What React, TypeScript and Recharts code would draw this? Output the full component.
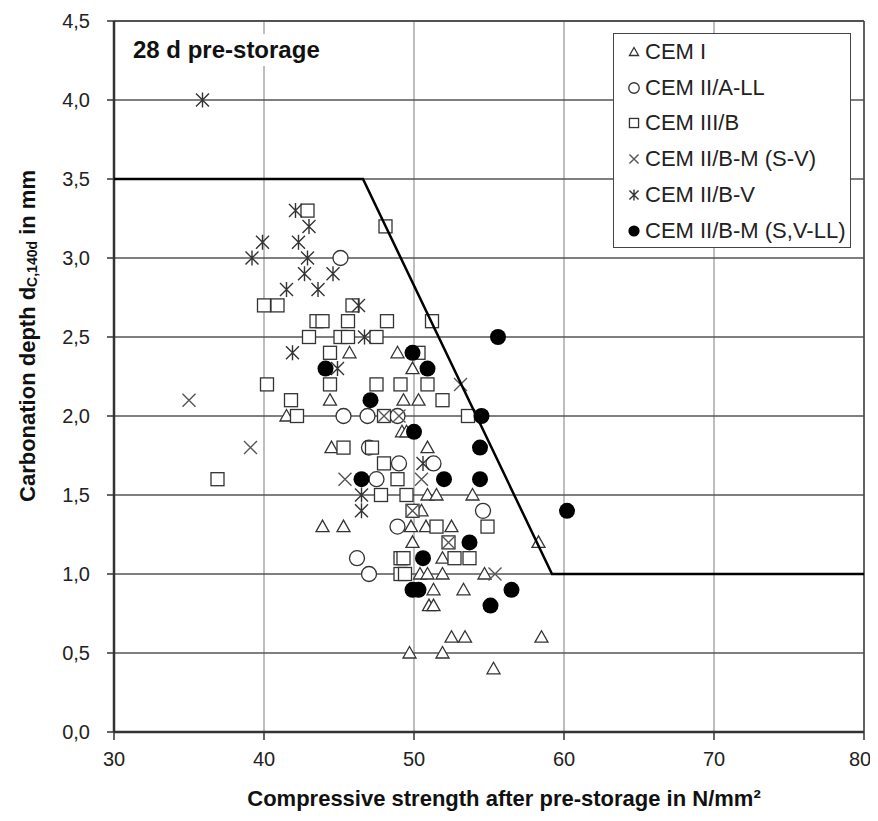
import { ScatterChart, Scatter, XAxis, YAxis, CartesianGrid, ReferenceLine } from "recharts";

const xTicks = [30, 40, 50, 60, 70, 80];
const yTicks = [0, 0.5, 1, 1.5, 2, 2.5, 3, 3.5, 4, 4.5];

const seriesNames = ["CEM I", "CEM II/A-LL", "CEM III/B", "CEM II/B-M (S-V)", "CEM II/B-V", "CEM II/B-M (S,V-LL)"];

const cemI = [
  { x: 41.5, y: 2.0 }, { x: 44.4, y: 2.1 }, { x: 45.7, y: 2.4 }, { x: 48.9, y: 2.4 }, { x: 49.9, y: 2.3 },
  { x: 49.3, y: 2.1 }, { x: 50.3, y: 2.1 }, { x: 49.2, y: 1.9 }, { x: 49.5, y: 1.9 }, { x: 44.5, y: 1.8 },
  { x: 50.9, y: 1.8 }, { x: 50.9, y: 1.5 }, { x: 51.5, y: 1.5 }, { x: 53.9, y: 1.5 }, { x: 50.5, y: 1.4 },
  { x: 43.9, y: 1.3 }, { x: 45.3, y: 1.3 }, { x: 49.8, y: 1.3 }, { x: 50.8, y: 1.3 }, { x: 52.5, y: 1.3 },
  { x: 49.9, y: 1.2 }, { x: 58.3, y: 1.2 }, { x: 51.9, y: 1.1 }, { x: 50.4, y: 1.0 }, { x: 50.9, y: 1.0 },
  { x: 51.9, y: 1.0 }, { x: 54.7, y: 1.0 }, { x: 51.3, y: 0.9 }, { x: 53.3, y: 0.9 }, { x: 51.0, y: 0.8 },
  { x: 51.3, y: 0.8 }, { x: 52.5, y: 0.6 }, { x: 53.4, y: 0.6 }, { x: 58.5, y: 0.6 }, { x: 49.7, y: 0.5 },
  { x: 51.9, y: 0.5 }, { x: 55.3, y: 0.4 },
];

const cemIIALL = [
  { x: 45.1, y: 3.0 }, { x: 45.3, y: 2.0 }, { x: 46.9, y: 2.0 }, { x: 48.9, y: 2.0 }, { x: 47.0, y: 1.8 },
  { x: 49.0, y: 1.7 }, { x: 51.3, y: 1.7 }, { x: 47.5, y: 1.6 }, { x: 48.9, y: 1.3 }, { x: 54.6, y: 1.4 },
  { x: 46.2, y: 1.1 }, { x: 47.0, y: 1.0 },
];

const cemIIIB = [
  { x: 36.9, y: 1.6 }, { x: 40.0, y: 2.7 }, { x: 40.9, y: 2.7 }, { x: 40.2, y: 2.2 }, { x: 41.8, y: 2.1 },
  { x: 42.2, y: 2.0 }, { x: 42.9, y: 3.3 }, { x: 48.1, y: 3.2 }, { x: 43.5, y: 2.6 }, { x: 43.9, y: 2.6 },
  { x: 45.6, y: 2.6 }, { x: 48.2, y: 2.6 }, { x: 51.2, y: 2.6 }, { x: 43.0, y: 2.5 }, { x: 45.1, y: 2.5 },
  { x: 45.6, y: 2.5 }, { x: 47.5, y: 2.5 }, { x: 45.9, y: 2.7 }, { x: 44.4, y: 2.4 }, { x: 50.3, y: 2.4 },
  { x: 44.4, y: 2.2 }, { x: 47.5, y: 2.2 }, { x: 49.1, y: 2.2 }, { x: 50.9, y: 2.2 }, { x: 51.9, y: 2.1 },
  { x: 48.0, y: 2.0 }, { x: 53.6, y: 2.0 }, { x: 45.3, y: 1.8 }, { x: 47.2, y: 1.8 }, { x: 48.0, y: 1.7 },
  { x: 48.9, y: 1.6 }, { x: 47.8, y: 1.5 }, { x: 49.5, y: 1.5 }, { x: 49.9, y: 1.4 }, { x: 51.5, y: 1.3 },
  { x: 54.9, y: 1.3 }, { x: 52.3, y: 1.2 }, { x: 49.1, y: 1.1 }, { x: 49.3, y: 1.1 }, { x: 52.7, y: 1.1 },
  { x: 53.7, y: 1.1 }, { x: 49.1, y: 1.0 }, { x: 49.4, y: 1.0 },
];

const cemIIBMSV = [
  { x: 35.0, y: 2.1 }, { x: 39.1, y: 1.8 }, { x: 53.1, y: 2.2 }, { x: 45.4, y: 1.6 }, { x: 50.5, y: 1.6 },
  { x: 48.0, y: 2.0 }, { x: 49.0, y: 2.0 }, { x: 49.9, y: 1.4 }, { x: 52.3, y: 1.2 }, { x: 55.4, y: 1.0 },
];

const cemIIBV = [
  { x: 35.9, y: 4.0 }, { x: 39.9, y: 3.1 }, { x: 39.2, y: 3.0 }, { x: 42.1, y: 3.3 }, { x: 43.0, y: 3.2 },
  { x: 42.3, y: 3.1 }, { x: 42.9, y: 3.0 }, { x: 42.7, y: 2.9 }, { x: 44.6, y: 2.9 }, { x: 41.5, y: 2.8 },
  { x: 43.6, y: 2.8 }, { x: 46.3, y: 2.7 }, { x: 46.7, y: 2.5 }, { x: 41.9, y: 2.4 }, { x: 44.9, y: 2.3 },
  { x: 50.6, y: 1.7 }, { x: 46.5, y: 1.5 }, { x: 46.5, y: 1.4 },
];

const cemIIBMSVLL = [
  { x: 55.6, y: 2.5 }, { x: 49.9, y: 2.4 }, { x: 44.1, y: 2.3 }, { x: 50.9, y: 2.3 }, { x: 47.1, y: 2.1 },
  { x: 54.5, y: 2.0 }, { x: 50.0, y: 1.9 }, { x: 54.4, y: 1.8 }, { x: 46.5, y: 1.6 }, { x: 52.0, y: 1.6 },
  { x: 54.4, y: 1.6 }, { x: 60.2, y: 1.4 }, { x: 53.7, y: 1.2 }, { x: 50.6, y: 1.1 }, { x: 49.9, y: 0.9 },
  { x: 50.3, y: 0.9 }, { x: 56.5, y: 0.9 }, { x: 55.1, y: 0.8 },
];

// limit curve
const limitLine = [
  { x: 30, y: 3.5 }, { x: 46.6, y: 3.5 }, { x: 59.2, y: 1.0 }, { x: 80, y: 1.0 },
];

const FONT = "'Liberation Sans', Arial, sans-serif";
const INK = "#333";

const Tri = (p: any) => {
  const { cx, cy, s = 1 } = p;
  return (
    <path
      d={`M${cx},${cy - 6.5 * s} L${cx + 6.5 * s},${cy + 5 * s} L${cx - 6.5 * s},${cy + 5 * s} Z`}
      fill="#fff" stroke={INK} strokeWidth={1.3}
    />
  );
};
const Circ = (p: any) => <circle cx={p.cx} cy={p.cy} r={7.5 * (p.s || 1)} fill="#fff" stroke={INK} strokeWidth={1.3} />;
const Sq = (p: any) => {
  const h = 6.5 * (p.s || 1);
  return <rect x={p.cx - h} y={p.cy - h} width={2 * h} height={2 * h} fill="#fff" stroke={INK} strokeWidth={1.3} />;
};
const Cross = (p: any) => {
  const h = 6.5 * (p.s || 1);
  const { cx, cy } = p;
  return (
    <path d={`M${cx - h},${cy - h} L${cx + h},${cy + h} M${cx - h},${cy + h} L${cx + h},${cy - h}`} stroke="#555" strokeWidth={1.4} fill="none" />
  );
};
const Star = (p: any) => {
  const h = 6.5 * (p.s || 1);
  const { cx, cy } = p;
  return (
    <path
      d={`M${cx - h},${cy - h} L${cx + h},${cy + h} M${cx - h},${cy + h} L${cx + h},${cy - h} M${cx},${cy - h - 1} L${cx},${cy + h + 1}`}
      stroke="#333" strokeWidth={1.4} fill="none"
    />
  );
};
const Dot = (p: any) => <circle cx={p.cx} cy={p.cy} r={8 * (p.s || 1)} fill="#000" />;
const NoDot = () => <g />;

const shapes = [Tri, Circ, Sq, Cross, Star, Dot];

const LegendBox = () => (
  <div
    style={{
      position: "absolute", left: 605, top: 25, width: 238, height: 215,
      border: "1px solid #444", background: "#fff",
      fontFamily: FONT, fontSize: 22, color: "#222", boxSizing: "border-box", paddingTop: 0,
    }}
  >
    {seriesNames.map((n, i) => {
      const S = shapes[i];
      return (
        <div key={n} style={{ height: 35.8, display: "flex", alignItems: "center", paddingLeft: 11 }}>
          <svg width={18} height={18} style={{ marginRight: 2, flex: "none" }}>
            <S cx={9} cy={9} s={0.7} />
          </svg>
          <span style={{ whiteSpace: "nowrap" }}>{n}</span>
        </div>
      );
    })}
  </div>
);

const YTitle = (props: any) => {
  const { viewBox } = props;
  const cx = viewBox.x + 19;
  const cy = viewBox.y + 315;
  return (
    <text x={cx} y={cy} transform={`rotate(-90 ${cx} ${cy})`} textAnchor="middle" dominantBaseline="central"
      fontFamily={FONT} fontWeight="bold" fontSize={22} fill="#111">
      Carbonation depth d<tspan dy={5} fontSize={14}>C,140d</tspan><tspan dy={-5}> in mm</tspan>
    </text>
  );
};

const XTitle = (props: any) => {
  const { viewBox } = props;
  const cx = 496;
  const cy = viewBox.y + 66;
  return (
    <text x={cx} y={cy} textAnchor="middle" dominantBaseline="central" fontFamily={FONT} fontWeight="bold" fontSize={22} fill="#111">
      Compressive strength after pre-storage in N/mm²
    </text>
  );
};

const fmt = (v: number) => v.toFixed(1).replace(".", ",");

export default function App() {
  return (
    <div style={{ position: "relative", width: 862, height: 805 }}>
      <style>{".recharts-surface{overflow:visible}"}</style>
      <ScatterChart width={862} height={805} margin={{ top: 13, right: 6, bottom: 5, left: 0 }}>
        <CartesianGrid horizontal={false} stroke="#a8a8a8" strokeWidth={1.5} />
        <CartesianGrid vertical={false} stroke="#555" strokeWidth={1.5} />
        <XAxis
          type="number" dataKey="x" domain={[30, 80]} ticks={xTicks} height={76}
          axisLine={{ stroke: "#333", strokeWidth: 2.5 }} tickLine={{ stroke: "#333", strokeWidth: 1.5 }}
          tickSize={8} tickMargin={12}
          tick={{ fontFamily: FONT, fontSize: 20, fill: "#222" }}
          label={{ content: XTitle }}
        />
        <YAxis
          type="number" dataKey="y" domain={[0, 4.5]} ticks={yTicks} width={106} tickFormatter={fmt}
          axisLine={{ stroke: "#333", strokeWidth: 2.5 }} tickLine={{ stroke: "#333", strokeWidth: 1.5 }}
          tickSize={7} tickMargin={17}
          tick={{ fontFamily: FONT, fontSize: 20, fill: "#222" }}
          label={{ content: YTitle }}
        />
        <ReferenceLine x={80} stroke="#444" strokeWidth={1.5} />
        <ReferenceLine y={4.5} stroke="#444" strokeWidth={1.5} />
        <Scatter name={seriesNames[0]} data={cemI} shape={Tri} isAnimationActive={false} />
        <Scatter name={seriesNames[1]} data={cemIIALL} shape={Circ} isAnimationActive={false} />
        <Scatter name={seriesNames[2]} data={cemIIIB} shape={Sq} isAnimationActive={false} />
        <Scatter name={seriesNames[3]} data={cemIIBMSV} shape={Cross} isAnimationActive={false} />
        <Scatter name={seriesNames[4]} data={cemIIBV} shape={Star} isAnimationActive={false} />
        <Scatter data={limitLine} line={{ stroke: "#000", strokeWidth: 2.5 }} shape={NoDot} legendType="none" isAnimationActive={false} />
        <Scatter name={seriesNames[5]} data={cemIIBMSVLL} shape={Dot} isAnimationActive={false} />
      </ScatterChart>
      <LegendBox />
      <div
        style={{
          position: "absolute", left: 117, top: 26, padding: "1px 8px", background: "#fff",
          fontFamily: FONT, fontSize: 24, lineHeight: "30px", fontWeight: "bold", color: "#111",
        }}
      >
        28 d pre-storage
      </div>
    </div>
  );
}
